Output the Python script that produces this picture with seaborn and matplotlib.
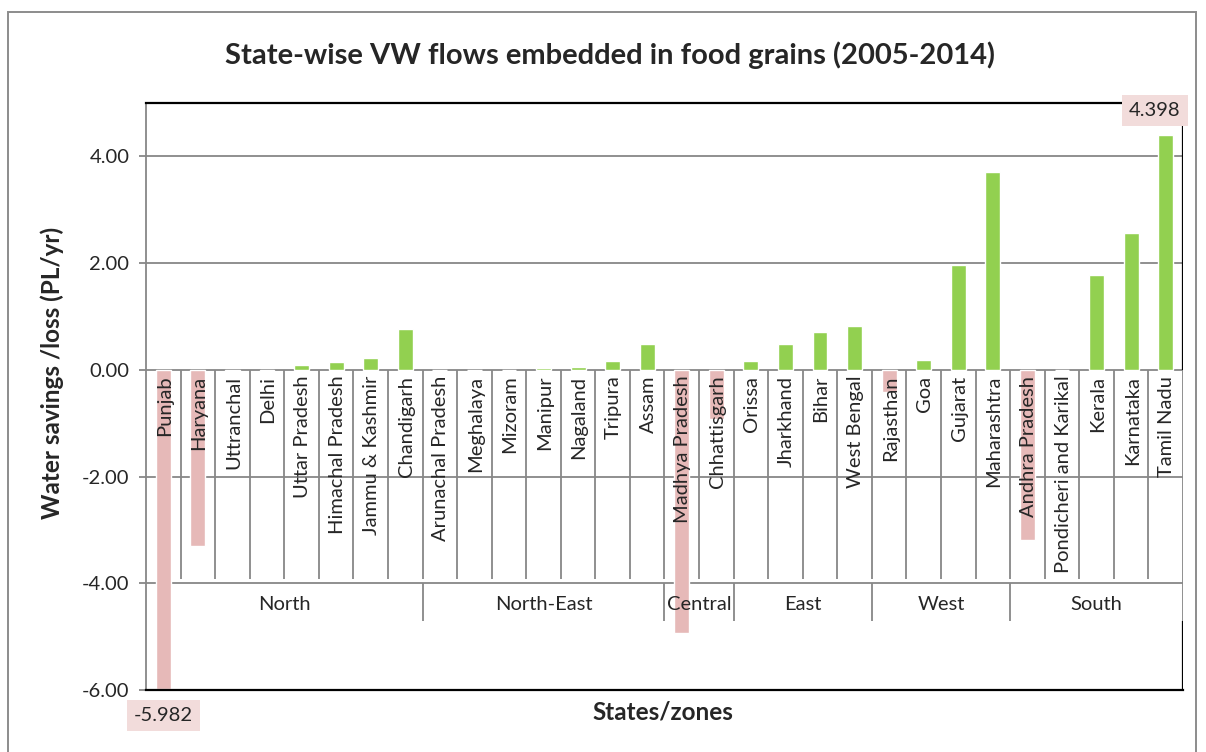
import numpy as np
import pandas as pd
import seaborn as sns
import matplotlib.pyplot as plt
from matplotlib.patches import Rectangle

states = ["Punjab", "Haryana", "Uttranchal", "Delhi", "Uttar Pradesh", "Himachal Pradesh",
          "Jammu & Kashmir", "Chandigarh", "Arunachal Pradesh", "Meghalaya", "Mizoram",
          "Manipur", "Nagaland", "Tripura", "Assam", "Madhya Pradesh", "Chhattisgarh",
          "Orissa", "Jharkhand", "Bihar", "West Bengal", "Rajasthan", "Goa", "Gujarat",
          "Maharashtra", "Andhra Pradesh", "Pondicheri and Karikal", "Kerala", "Karnataka",
          "Tamil Nadu"]
values = [-5.982, -3.31, -0.03, -0.02, 0.09, 0.15, 0.23, 0.77, 0.0, 0.0, 0.0,
          0.04, 0.06, 0.17, 0.49, -4.94, -0.93, 0.17, 0.49, 0.71, 0.83, -0.41,
          0.19, 1.97, 3.70, -3.19, 0.0, 1.77, 2.57, 4.398]
zones = ["North", "North-East", "Central", "East", "West", "South"]
zone_sizes = [8, 7, 2, 4, 4, 5]

GREEN = "#92D050"
PINK = "#E6B9B8"
GRID = "#878787"

sns.set_style("white")
plt.rcParams['font.family'] = ['Lato', 'DejaVu Sans']

df = pd.DataFrame({"state": states, "value": values})
colors = [GREEN if v >= 0 else PINK for v in values]

fig = plt.figure(figsize=(12.06, 7.52), dpi=100)
ax = fig.add_axes([146 / 1206, 1 - 690 / 752, (1183 - 146) / 1206, (690 - 103) / 752])

sns.barplot(data=df, x="state", y="value", hue="state", palette=colors, legend=False,
            width=0.43, saturation=1, ax=ax, zorder=2)

ax.set_xlim(-0.5, len(states) - 0.5)
ax.set_ylim(-6, 5)
ax.set_yticks([-6, -4, -2, 0, 2, 4])
ax.set_yticklabels([f"{t:.2f}" for t in [-6, -4, -2, 0, 2, 4]], fontsize=14.5)
ax.set_xticks([])
ax.tick_params(axis="y", length=5, width=1.3, color=GRID, direction="out", left=True, pad=7)
for t in [-4, -2, 0, 2, 4]:
    ax.axhline(t, color=GRID, lw=1.3, zorder=0)

for s in ["top", "bottom"]:
    ax.spines[s].set_color("black")
    ax.spines[s].set_linewidth(1.6)
ax.spines["left"].set_color(GRID)
ax.spines["left"].set_linewidth(1.3)
ax.spines["right"].set_visible(False)
n = len(states)
ax.vlines(n - 0.5, 0, 5, color="black", lw=1.6, zorder=3)
ax.vlines(n - 0.5, -6, -4.71, color="black", lw=1.6, zorder=3)
ax.vlines(n - 0.5, -4.71, 0, color=GRID, lw=1.3, zorder=1)

# category axis: state names and zone groups
ax.vlines(np.arange(1, n) - 0.5, -3.925, 0, color=GRID, lw=1.3, zorder=1)
for i, s in enumerate(states):
    ax.text(i + 0.03, -0.11, s, rotation=90, ha="center", va="top", fontsize=14.5, zorder=4)
bounds = np.cumsum([0] + zone_sizes)
ax.vlines(bounds[1:-1] - 0.5, -4.71, -4, color=GRID, lw=1.3, zorder=1)
for z, a, b in zip(zones, bounds[:-1], bounds[1:]):
    ax.text((a + b - 1) / 2, -4.4, z, ha="center", va="center", fontsize=14.5, zorder=4)

# data labels for extremes
box = dict(boxstyle="square,pad=0.35", fc="#F2DCDB", ec="none")
imin, imax = int(np.argmin(values)), int(np.argmax(values))
ax.text(imin, values[imin] - 0.5, f"{values[imin]:.3f}", ha="center", va="center",
        fontsize=14.5, bbox=box, clip_on=False, zorder=5)
ax.text(imax - 0.32, values[imax] + 0.46, f"{values[imax]:.3f}", ha="center", va="center",
        fontsize=14.5, bbox=box, clip_on=False, zorder=5)

ax.set_xlabel("")
ax.set_ylabel("")
fig.text(52 / 1206, 1 - 373 / 752, "Water savings /loss (PL/yr)", rotation=90,
         ha="center", va="center", fontsize=17.5, fontweight="bold")
fig.text(663 / 1206, 1 - 712 / 752, "States/zones", ha="center", va="center",
         fontsize=17.5, fontweight="bold")
fig.text(610 / 1206, 1 - 55 / 752, "State-wise VW flows embedded in food grains (2005-2014)",
         ha="center", va="center", fontsize=21, fontweight="bold")

fig.patches.append(Rectangle((8 / 1206, -0.1), (1196 - 8) / 1206, 1.1 - 12 / 752,
                             transform=fig.transFigure, fill=False, ec="#8c8c8c", lw=1.4))

fig.savefig("out.png", dpi=100)
